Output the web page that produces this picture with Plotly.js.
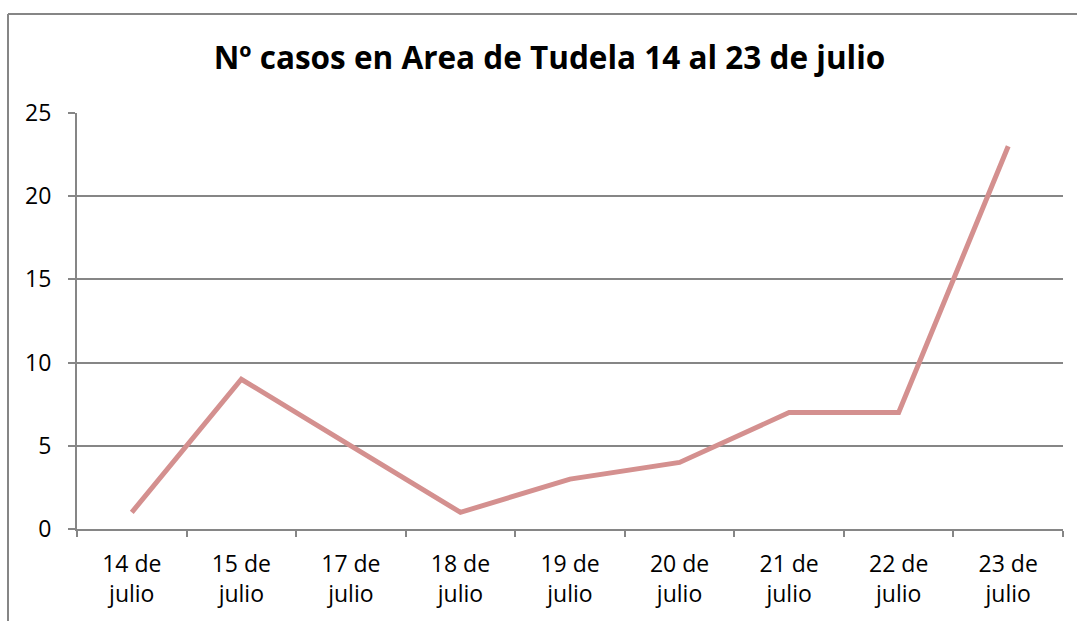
<!DOCTYPE html>
<html><head><meta charset="utf-8">
<script src="https://cdn.plot.ly/plotly-3.0.1.min.js"></script>
<style>html,body{margin:0;padding:0;background:#fff}#chart{width:1077px;height:621px}</style>
</head><body><div id="chart"></div>
<script>
const categories = ["14 de julio","15 de julio","17 de julio","18 de julio","19 de julio","20 de julio","21 de julio","22 de julio","23 de julio"];
const tickLabels = ["14 de<br>julio","15 de<br>julio","17 de<br>julio","18 de<br>julio","19 de<br>julio","20 de<br>julio","21 de<br>julio","22 de<br>julio","23 de<br>julio"];
const casos = [1, 9, 5, 1, 3, 4, 7, 7, 23];
const yTicks = [0, 5, 10, 15, 20, 25];

const W = 1077, H = 621, L = 77, R = 14, T = 113, B = 92;
const pw = W - L - R, ph = H - T - B;
const px = v => (v - L) / pw, py = v => (H - B - v) / ph;

const font = "Open Sans, Lato, sans-serif";
Plotly.newPlot("chart", [{
  x: categories, y: casos, type: "scatter", mode: "lines",
  line: {color: "#D4908F", width: 5},
  hoverinfo: "x+y"
}], {
  width: W, height: H,
  margin: {l: L, r: R, t: T, b: B, pad: 0},
  paper_bgcolor: "#fff", plot_bgcolor: "#fff",
  showlegend: false,
  title: {text: "<b>Nº casos en Area de Tudela 14 al 23 de julio</b>",
    font: {family: font, size: 31.5, color: "#000"},
    xref: "container", yref: "container", x: 549.5 / W, y: 1 - 58 / H,
    xanchor: "center", yanchor: "middle"},
  xaxis: {type: "category", range: [-0.5, 8.5], tickmode: "array",
    tickvals: categories, ticktext: tickLabels, tickson: "boundaries",
    ticks: "outside", ticklen: 6, tickcolor: "#868686", tickwidth: 2,
    showline: true, linecolor: "#868686", linewidth: 2, showgrid: false,
    ticklabelstandoff: 13,
    tickfont: {family: font, size: 23, color: "#000"}, zeroline: false, fixedrange: true},
  yaxis: {range: [0, 25], tickmode: "array", tickvals: yTicks,
    ticks: "outside", ticklen: 7, tickcolor: "#868686", tickwidth: 2,
    showline: true, linecolor: "#868686", linewidth: 2,
    showgrid: true, gridcolor: "#868686", gridwidth: 2, zeroline: false,
    ticklabelstandoff: 12,
    tickfont: {family: font, size: 23, color: "#000"}, fixedrange: true},
  shapes: [
    {type: "line", xref: "paper", yref: "paper", x0: px(8), x1: px(8), y0: py(H + 5), y1: py(14), line: {color: "#868686", width: 2}},
    {type: "line", xref: "paper", yref: "paper", x0: px(8), x1: px(W + 5), y0: py(14), y1: py(14), line: {color: "#868686", width: 2}}
  ]
}, {displayModeBar: false, staticPlot: false});
</script></body></html>
